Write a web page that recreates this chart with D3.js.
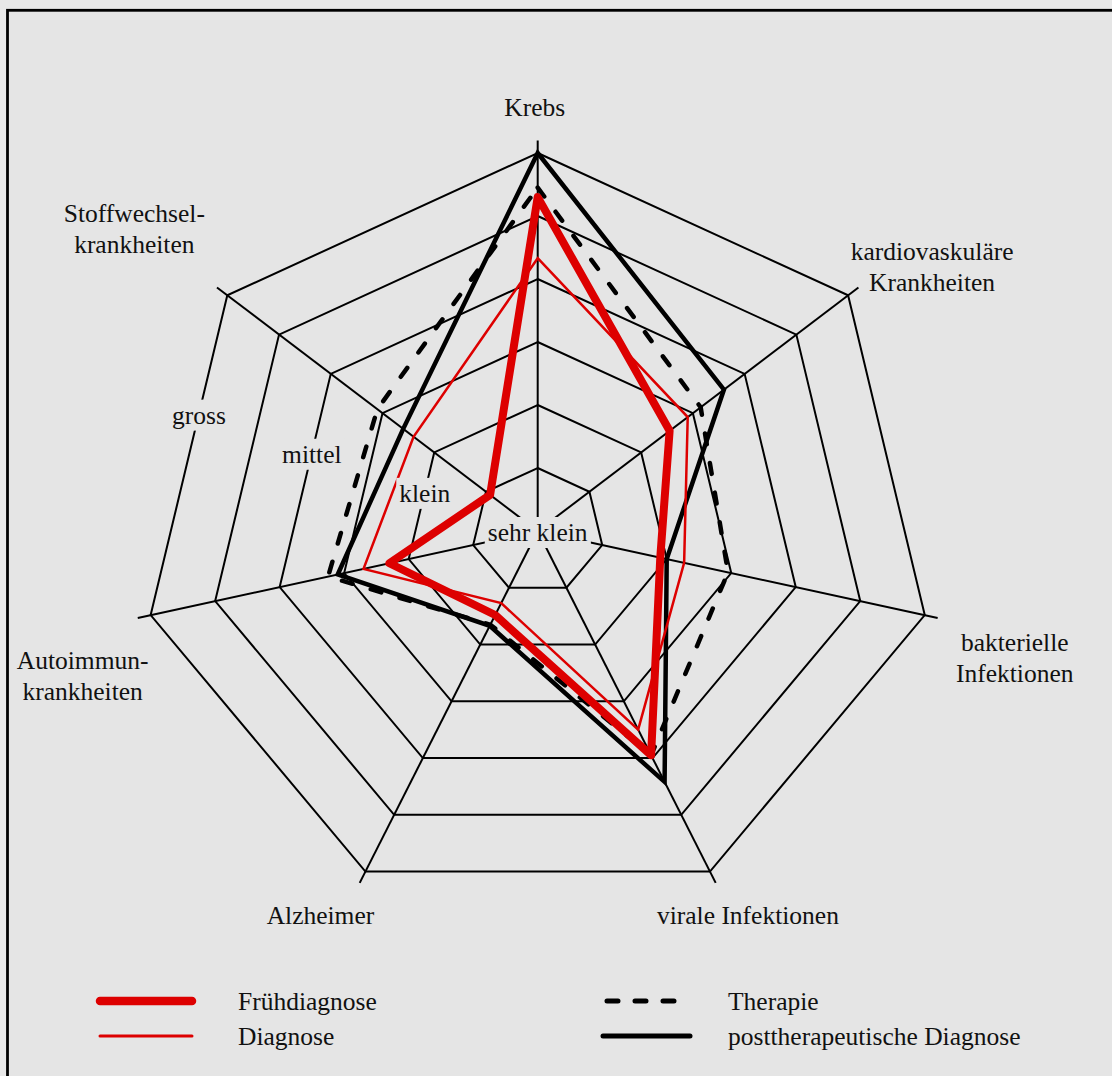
<!DOCTYPE html>
<html>
<head>
<meta charset="utf-8">
<script src="https://cdn.jsdelivr.net/npm/d3@7"></script>
<style>
	body { margin: 0; background: #e8e8e8; }
	svg { display: block; font-family: "Liberation Serif", "Times New Roman", serif; }
</style>
</head>
<body>
<svg id="grafico"></svg>
<script>
// Datos (escala 0 - 6, un anillo por unidad)
const ejes = [
	["Krebs"],
	["kardiovaskuläre", "Krankheiten"],
	["bakterielle", "Infektionen"],
	["virale Infektionen"],
	["Alzheimer"],
	["Autoimmun-", "krankheiten"],
	["Stoffwechsel-", "krankheiten"]
];
const niveles = [1, 2, 3, 4, 5, 6];
const nombresNivel = ["sehr klein", "klein", "mittel", "gross"];
const nivelesNombre = [0, 2, 4, 6];

const fruehdiagnose = [5.3, 2.55, 1.9, 3.95, 1.48, 2.3, 0.92];
const diagnose = [4.33, 2.9, 2.27, 3.5, 1.27, 2.7, 2.4];
const therapie = [5.45, 3.15, 2.95, 3.95, 1.65, 3.25, 3.1];
const posttherapeutisch = [6.0, 3.6, 2.0, 4.42, 1.67, 3.1, 2.6];

const nombresSeries = ["Frühdiagnose", "Diagnose", "Therapie", "posttherapeutische Diagnose"];

const WIDTH = 1112,
	HEIGHT = 1076;

const centro = { x: 537.7, y: 531 };
const TAM_FUENTE = 25.5;

// estilos de cada serie (mismo orden que nombresSeries)
const estilos = [
	{ color: "#dd0000", ancho: 8, guiones: null, anchoLeyenda: 8.5 },
	{ color: "#dd0000", ancho: 2.5, guiones: null, anchoLeyenda: 3 },
	{ color: "#000", ancho: 4.5, guiones: "11 19", anchoLeyenda: 5 },
	{ color: "#000", ancho: 4.5, guiones: null, anchoLeyenda: 5 }
];

// desplazamiento de los nombres de eje respecto del vertice exterior
const desplazamientoEjes = [[-3, -46], [84, -29], [90, 42], [38, 43], [-45, 43], [-68, 60], [-93, -67]];

const svg = d3.select("#grafico")
	.attr("width", WIDTH)
	.attr("height", HEIGHT);

// marco
svg.append("rect")
	.attr("x", 7.5)
	.attr("y", 10.3)
	.attr("width", WIDTH + 20)
	.attr("height", HEIGHT + 20)
	.attr("fill", "#e5e5e5")
	.attr("stroke", "#000")
	.attr("stroke-width", 2.8);

const escalaX = d3.scaleLinear().domain([0, 6]).range([0, 397]);
const escalaY = d3.scaleLinear().domain([0, 6]).range([0, 378]);

const angulo = i => i * 2 * Math.PI / ejes.length;
const punto = (i, v) => [
	centro.x + escalaX(v) * Math.sin(angulo(i)),
	centro.y - escalaY(v) * Math.cos(angulo(i))
];

const lineaCerrada = d3.line().curve(d3.curveLinearClosed);

const contenedorRed = svg.append("g");
const contenedorSeries = svg.append("g");
const contenedorTextos = svg.append("g")
	.attr("font-size", TAM_FUENTE)
	.attr("fill", "#111");

// anillos
contenedorRed.selectAll("path")
	.data(niveles)
	.join("path")
	.attr("d", n => lineaCerrada(ejes.map((_, i) => punto(i, n))))
	.attr("fill", "none")
	.attr("stroke", "#000")
	.attr("stroke-width", 2);

// ejes
contenedorRed.selectAll("line")
	.data(ejes)
	.join("line")
	.attr("x1", centro.x)
	.attr("y1", centro.y)
	.attr("x2", (_, i) => punto(i, 6.2)[0])
	.attr("y2", (_, i) => punto(i, 6.2)[1])
	.attr("stroke", "#000")
	.attr("stroke-width", 2);

// series (de abajo hacia arriba)
const series = [posttherapeutisch, therapie, diagnose, fruehdiagnose];
const estilosSeries = [estilos[3], estilos[2], estilos[1], estilos[0]];

contenedorSeries.selectAll("path")
	.data(series)
	.join("path")
	.attr("d", d => lineaCerrada(d.map((v, i) => punto(i, v))))
	.attr("fill", "none")
	.attr("stroke", (_, k) => estilosSeries[k].color)
	.attr("stroke-width", (_, k) => estilosSeries[k].ancho)
	.attr("stroke-dasharray", (_, k) => estilosSeries[k].guiones)
	.attr("stroke-linecap", (_, k) => estilosSeries[k].guiones ? "round" : "butt")
	.attr("stroke-linejoin", (_, k) => k == 3 ? "round" : "miter");

// nombres de los ejes
ejes.forEach((lineas, i) => {
	const [px, py] = punto(i, 6);
	const [dx, dy] = desplazamientoEjes[i];
	contenedorTextos.append("text")
		.attr("text-anchor", "middle")
		.selectAll("tspan")
		.data(lineas)
		.join("tspan")
		.attr("x", px + dx)
		.attr("y", (_, k) => py + dy + (k - (lineas.length - 1) / 2) * 31 + 9)
		.text(d => d);
});

// nombres de los niveles, sobre el tramo entre Stoffwechsel y Autoimmun
const posicionNivel = n => {
	const a = punto(6, n), b = punto(5, n), t = 0.37;
	return [a[0] + (b[0] - a[0]) * t, a[1] + (b[1] - a[1]) * t];
};

nivelesNombre.forEach((n, k) => {
	const [px, py] = posicionNivel(n);
	const g = contenedorTextos.append("g");
	const texto = g.append("text")
		.attr("x", px)
		.attr("y", py + 10)
		.attr("text-anchor", "middle")
		.text(nombresNivel[k]);
	const caja = texto.node().getBBox();
	g.insert("rect", "text")
		.attr("x", caja.x - 3)
		.attr("y", caja.y - 1)
		.attr("width", caja.width + 6)
		.attr("height", caja.height + 2)
		.attr("fill", "#e5e5e5");
});

// leyenda
const leyenda = svg.append("g");
const columnas = [[100, 192, 238], [603, 690, 728]];
const filas = [1001, 1036];

nombresSeries.forEach((nombre, k) => {
	const col = columnas[Math.floor(k / 2)];
	const fila = filas[k % 2];
	const e = estilos[k];
	leyenda.append("line")
		.attr("x1", col[0] + (e.guiones ? 4 : 0))
		.attr("x2", col[1] - (e.guiones ? 4 : 0))
		.attr("y1", fila)
		.attr("y2", fila)
		.attr("stroke", e.color)
		.attr("stroke-width", e.anchoLeyenda)
		.attr("stroke-dasharray", e.guiones ? "11 17" : null)
		.attr("stroke-linecap", "round");
	leyenda.append("text")
		.attr("x", col[2])
		.attr("y", fila + 9)
		.attr("font-size", TAM_FUENTE)
		.attr("fill", "#111")
		.text(nombre);
});
</script>
</body>
</html>
